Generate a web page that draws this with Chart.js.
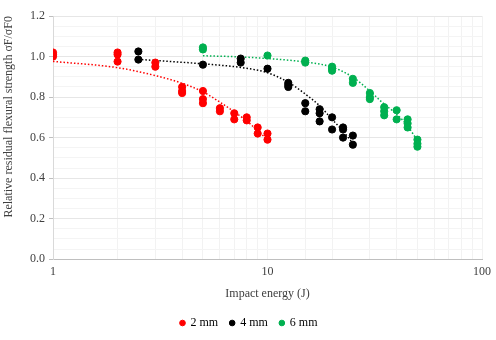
<!DOCTYPE html>
<html>
<head>
<meta charset="utf-8">
<script src="https://cdn.jsdelivr.net/npm/chart.js@4"></script>
<style>
  body { margin: 0; background: #fff; }
  #wrap { width: 496px; height: 340px; }
</style>
</head>
<body>
<div id="wrap"><canvas id="flexChart"></canvas></div>
<script>
// Data: impact energy (J) and relative strength
var energy2mm = [1, 1, 1, 2, 2, 2, 3, 3, 4, 4, 4, 5, 5, 5, 6, 6, 7, 7, 8, 8, 9, 9, 10, 10];
var strength2mm = [1.02, 1.01, 1.0, 1.02, 1.01, 0.975, 0.97, 0.95, 0.85, 0.83, 0.82, 0.83, 0.79, 0.77, 0.745, 0.73, 0.72, 0.69, 0.70, 0.685, 0.65, 0.62, 0.62, 0.59];

var energy4mm = [2.5, 2.5, 5, 7.5, 7.5, 10, 12.5, 12.5, 12.5, 15, 15, 17.5, 17.5, 17.5, 20, 20, 22.5, 22.5, 22.5, 25, 25];
var strength4mm = [1.025, 0.985, 0.96, 0.99, 0.97, 0.94, 0.87, 0.86, 0.85, 0.77, 0.73, 0.74, 0.72, 0.68, 0.70, 0.64, 0.65, 0.64, 0.60, 0.61, 0.565];

var energy6mm = [5, 5, 10, 15, 15, 20, 20, 20, 25, 25, 30, 30, 30, 35, 35, 35, 40, 40, 45, 45, 45, 50, 50, 50];
var strength6mm = [1.045, 1.035, 1.005, 0.98, 0.97, 0.95, 0.94, 0.93, 0.89, 0.87, 0.82, 0.80, 0.79, 0.75, 0.73, 0.71, 0.735, 0.69, 0.69, 0.67, 0.65, 0.59, 0.57, 0.555];

// dotted trend lines
var trendX2mm = [1, 2, 3, 4, 5, 6, 7, 8, 9, 10];
var trendY2mm = [0.976, 0.945, 0.906, 0.868, 0.826, 0.775, 0.727, 0.682, 0.634, 0.59];
var trendX4mm = [2.5, 5, 7.5, 10, 12.5, 15, 17.5, 20, 22.5, 25];
var trendY4mm = [0.986, 0.964, 0.946, 0.92, 0.873, 0.815, 0.757, 0.69, 0.632, 0.572];
var trendX6mm = [5, 7.5, 10, 15, 20, 25, 30, 35, 40, 45, 50];
var trendY6mm = [1.004, 0.998, 0.99, 0.973, 0.948, 0.898, 0.83, 0.765, 0.716, 0.657, 0.585];

var seriesLabels = ['2 mm', '4 mm', '6 mm'];
var seriesColors = ['#ff0000', '#000000', '#00b050'];
var xTickLabels = [1, 10, 100];

function toPoints(xs, ys) {
  return xs.map(function (x, i) { return {x: x, y: ys[i]}; });
}

var allX = [energy2mm, energy4mm, energy6mm];
var allY = [strength2mm, strength4mm, strength6mm];
var trendX = [trendX2mm, trendX4mm, trendX6mm];
var trendY = [trendY2mm, trendY4mm, trendY6mm];

var datasets = [];
for (var i = 0; i < 3; i++) {
  datasets.push({
    label: seriesLabels[i],
    data: toPoints(allX[i], allY[i]),
    backgroundColor: seriesColors[i],
    borderColor: seriesColors[i],
    pointRadius: 3.6,
    pointHoverRadius: 4,
    showLine: false,
    order: 1
  });
}
for (var i2 = 0; i2 < 3; i2++) {
  datasets.push({
    label: 'trend',
    data: toPoints(trendX[i2], trendY[i2]),
    borderColor: seriesColors[i2],
    borderWidth: 1.5,
    borderDash: [1.5, 2],
    cubicInterpolationMode: 'monotone',
    pointRadius: 0,
    showLine: true,
    fill: false,
    order: 2
  });
}

var serif = "'Liberation Serif', 'Times New Roman', serif";
Chart.defaults.font.family = serif;
Chart.defaults.color = '#404040';

var config = {
  type: 'scatter',
  data: {datasets: datasets},
  options: {
    responsive: true,
    maintainAspectRatio: false,
    animation: false,
    layout: {padding: {top: 16, right: 0, left: 2, bottom: 1}},
    plugins: {
      legend: {
        position: 'bottom',
        labels: {
          usePointStyle: true,
          pointStyle: 'circle',
          boxWidth: 4,
          boxHeight: 4,
          padding: 12,
          color: '#000',
          font: {size: 12},
          filter: function (item) { return item.text !== 'trend'; }
        }
      },
      tooltip: {enabled: false}
    },
    scales: {
      x: {
        type: 'logarithmic',
        min: 1,
        max: 100,
        border: {color: '#bfbfbf'},
        grid: {
          color: '#f2f2f2',
          drawTicks: false
        },
        ticks: {
          autoSkip: false,
          maxRotation: 0,
          padding: 5,
          color: '#404040',
          font: {size: 12},
          callback: function (v) { return xTickLabels.indexOf(v) >= 0 ? String(v) : ''; }
        },
        title: {
          display: true,
          text: 'Impact energy (J)',
          color: '#404040',
          font: {size: 12},
          padding: {top: 3, bottom: 4}
        }
      },
      y: {
        min: 0,
        max: 1.2,
        border: {color: '#d9d9d9'},
        grid: {
          color: function (ctx) {
            var v = ctx.tick ? Math.round(ctx.tick.value * 100) : 0;
            return v % 20 === 0 ? '#e6e6e6' : '#f4f4f4';
          },
          tickLength: 4,
          tickColor: function (ctx) {
            var v = ctx.tick ? Math.round(ctx.tick.value * 100) : 0;
            return v % 20 === 0 ? '#bfbfbf' : 'rgba(0,0,0,0)';
          }
        },
        ticks: {
          stepSize: 0.05,
          autoSkip: false,
          padding: 4,
          color: '#404040',
          font: {size: 12},
          callback: function (v) {
            var c = Math.round(v * 100);
            return c % 20 === 0 ? (c / 100).toFixed(1) : '';
          }
        },
        title: {
          display: true,
          text: 'Relative residual flexural strength σF/σF0',
          align: 'end',
          color: '#404040',
          font: {size: 12},
          padding: {top: 0, bottom: 2}
        },
        afterFit: function (scale) { scale.width = 51; }
      }
    }
  }
};

var ctx = document.getElementById('flexChart').getContext('2d');
var flexChart = new Chart(ctx, config);
</script>
</body>
</html>
